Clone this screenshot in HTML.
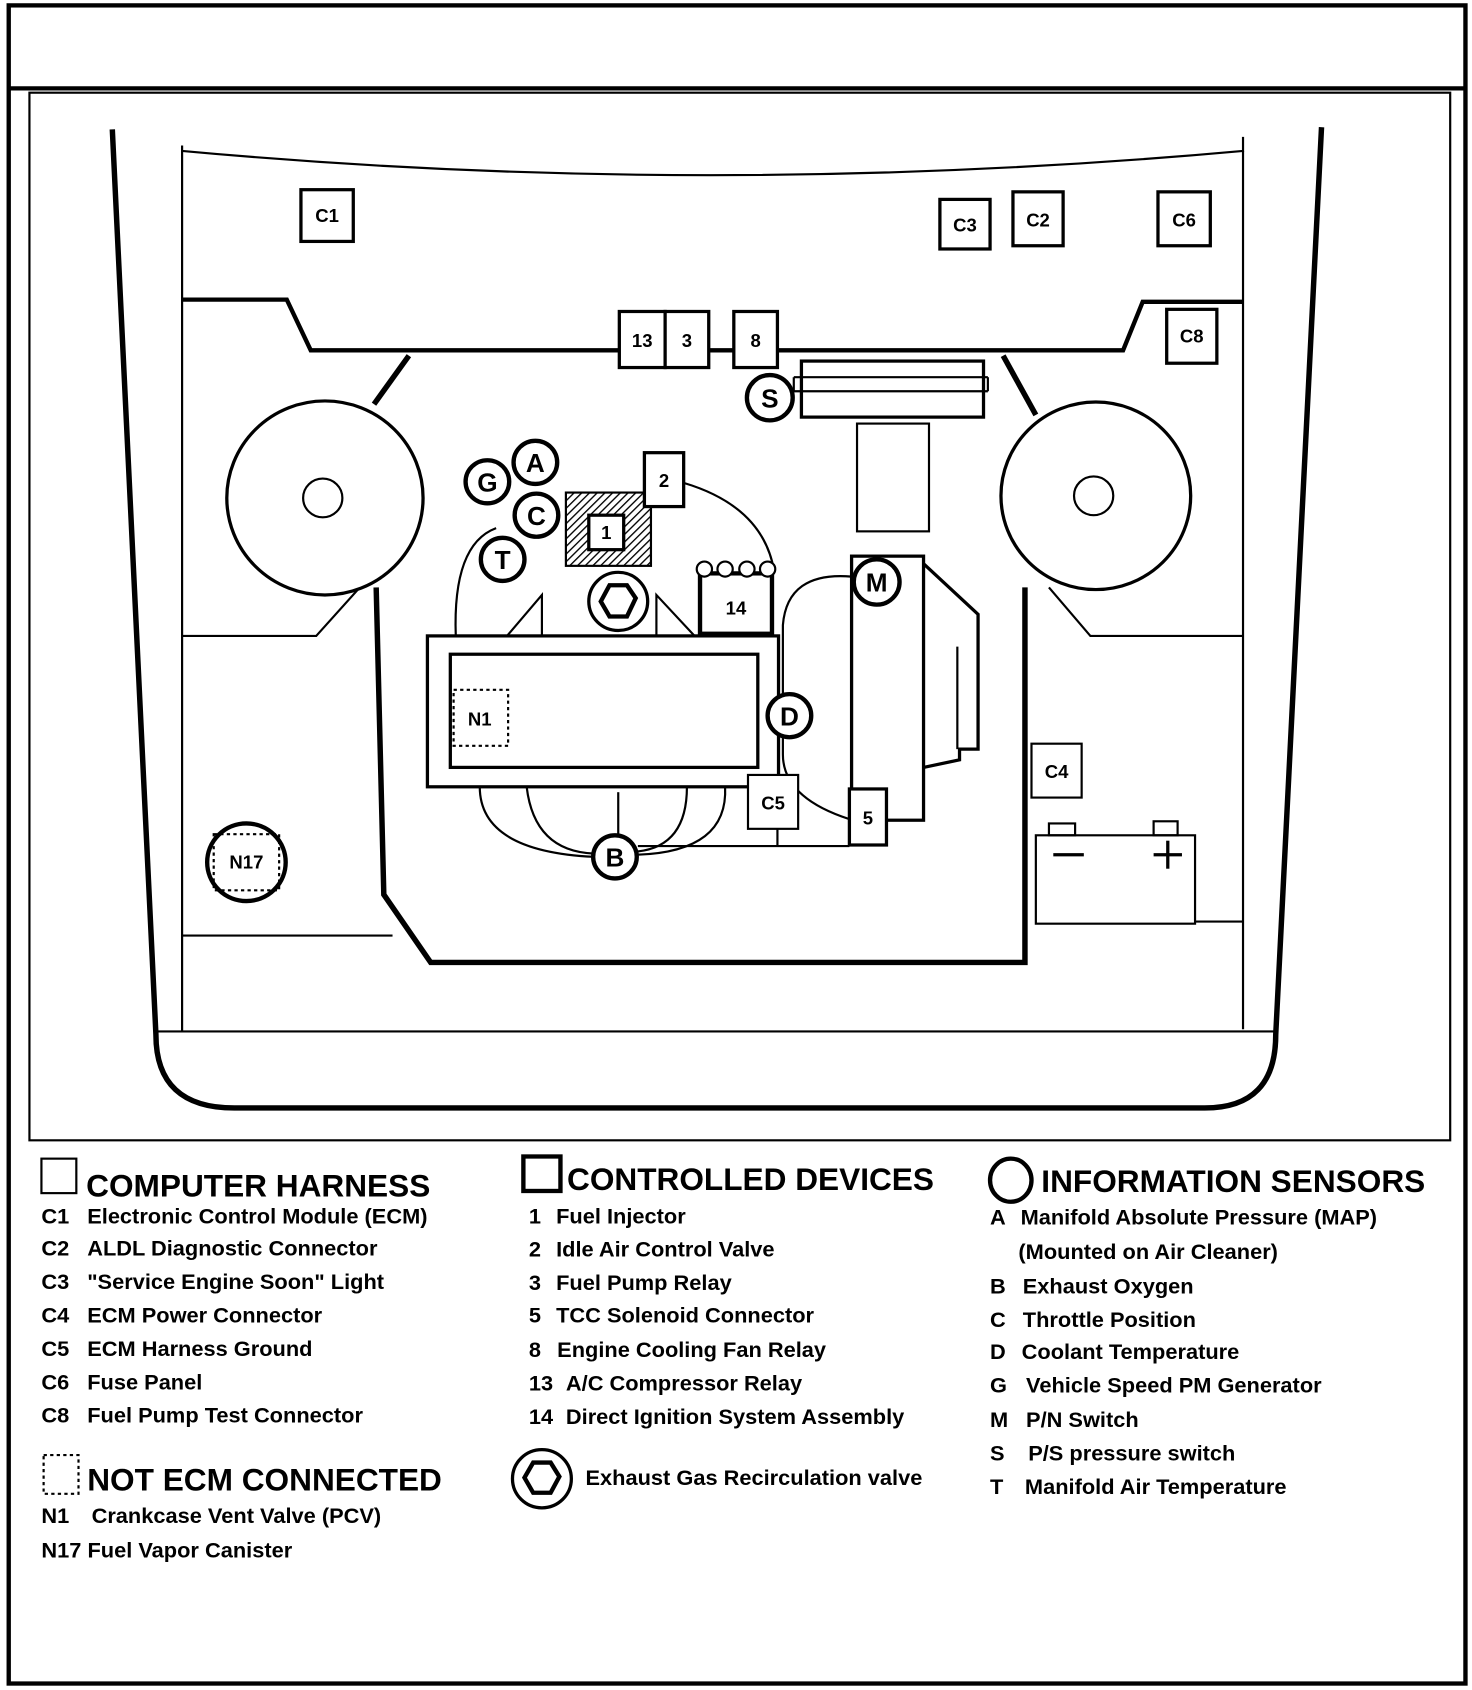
<!DOCTYPE html>
<html><head><meta charset="utf-8"><style>
html,body{margin:0;padding:0;background:#fff}
svg{display:block}
text{font-family:"Liberation Sans Narrow","Liberation Sans",sans-serif;font-weight:bold;fill:#000}
</style></head><body>
<svg width="1472" height="1690" viewBox="0 0 1350 1568" preserveAspectRatio="none" xmlns="http://www.w3.org/2000/svg">
<defs><pattern id="h" width="5" height="5" patternUnits="userSpaceOnUse" patternTransform="rotate(45)"><rect width="5" height="5" fill="#fff"/><line x1="0" y1="0" x2="0" y2="5" stroke="#000" stroke-width="2.5"/></pattern></defs>
<rect x="0" y="0" width="1350" height="1568" fill="#fff"/>
<g fill="none" stroke="#000">
<rect x="8" y="5" width="1336" height="1557" stroke-width="4"/>
<line x1="8" y1="82" x2="1344" y2="82" stroke-width="4"/>
<rect x="27" y="86" width="1303" height="972" stroke-width="2"/>
<path d="M103 120 L143 960 Q143 1028 215 1028 L1105 1028 Q1170 1028 1170 960 L1212 118" stroke-width="5"/>
<path d="M167 135 L167 140 Q650 185 1140 140 L1140 127" stroke-width="2"/>
<line x1="167" y1="140" x2="167" y2="958" stroke-width="2"/>
<line x1="1140" y1="140" x2="1140" y2="955" stroke-width="2"/>
<line x1="143" y1="957" x2="1170" y2="957" stroke-width="2"/>
<path d="M167 278 L263 278 L285 325 L1030 325 L1048 280 L1140 280" stroke-width="4"/>
<line x1="167" y1="868" x2="360" y2="868" stroke-width="2"/>
<line x1="1096" y1="855" x2="1140" y2="855" stroke-width="2"/>
<path d="M167 590 L290 590 L330 545" stroke-width="2"/>
<path d="M1140 590 L1000 590 L962 545" stroke-width="2"/>
<path d="M375 330 L343 375" stroke-width="5"/>
<path d="M345 545 L352 830 L395 893 L940 893 L940 545" stroke-width="5"/>
<path d="M920 330 L950 385" stroke-width="5"/>
<circle cx="298" cy="462" r="90" stroke-width="3" fill="#fff"/>
<circle cx="296" cy="462" r="18" stroke-width="2"/>
<circle cx="1005" cy="460" r="87" stroke-width="3" fill="#fff"/>
<circle cx="1003" cy="460" r="18" stroke-width="2"/>
<g stroke-width="3" fill="#fff">
<rect x="276" y="176" width="48" height="48"/>
<rect x="862" y="185" width="46" height="46"/>
<rect x="929" y="178" width="46" height="50"/>
<rect x="1062" y="178" width="48" height="50"/>
<rect x="1070" y="287" width="46" height="50"/>
<rect x="568" y="289" width="42" height="52"/>
<rect x="610" y="289" width="40" height="52"/>
<rect x="673" y="289" width="40" height="52"/>
</g>
<rect x="735" y="335" width="167" height="52" stroke-width="3" fill="#fff"/>
<line x1="728" y1="350" x2="906" y2="350" stroke-width="2"/>
<line x1="728" y1="363" x2="906" y2="363" stroke-width="2"/>
<line x1="728" y1="350" x2="728" y2="363" stroke-width="2"/>
<line x1="906" y1="350" x2="906" y2="363" stroke-width="2"/>
<rect x="786" y="393" width="66" height="100" stroke-width="2"/>
<path d="M418 590 Q415 505 455 490" stroke-width="2"/>
<path d="M627 448 Q700 470 710 530" stroke-width="2"/>
<path d="M465 590 L497 552 L497 590 Z" stroke-width="2"/>
<path d="M602 552 L602 590 L637 590 Z" stroke-width="2"/>
<rect x="519" y="457" width="78" height="68" stroke-width="2" fill="url(#h)"/>
<rect x="540" y="478" width="32" height="32" stroke-width="3" fill="#fff"/>
<rect x="591" y="420" width="36" height="50" stroke-width="3" fill="#fff"/>
<circle cx="567" cy="558" r="27" stroke-width="3"/>
<polygon points="559,543 575,543 583,555 575,572 559,572 551,558" stroke-width="4"/>
<rect x="642" y="532" width="66" height="56" stroke-width="4" fill="#fff"/>
<circle cx="646" cy="528" r="7" stroke-width="2" fill="#fff"/>
<circle cx="665" cy="528" r="7" stroke-width="2" fill="#fff"/>
<circle cx="685" cy="528" r="7" stroke-width="2" fill="#fff"/>
<circle cx="704" cy="528" r="7" stroke-width="2" fill="#fff"/>
<rect x="392" y="590" width="322" height="140" stroke-width="3" fill="#fff"/>
<rect x="413" y="607" width="282" height="105" stroke-width="3"/>
<rect x="416" y="640" width="50" height="52" stroke-width="2" stroke-dasharray="3,3"/>
<path d="M440 730 Q440 790 545 795" stroke-width="2"/>
<path d="M483 730 Q490 790 545 792" stroke-width="2"/>
<line x1="567" y1="735" x2="567" y2="775" stroke-width="2"/>
<path d="M630 730 Q630 785 585 790" stroke-width="2"/>
<path d="M665 730 Q668 790 585 793" stroke-width="2"/>
<path d="M585 785 L779 785" stroke-width="2"/>
<line x1="713" y1="769" x2="713" y2="785" stroke-width="2"/>
<path d="M781 535 Q722 530 718 580 L718 700 Q718 740 779 760" stroke-width="2"/>
<rect x="781" y="516" width="66" height="245" stroke-width="3" fill="#fff"/>
<path d="M847 523 L897 570 L897 695 L880 695 L880 705 L847 712" stroke-width="3"/>
<line x1="878" y1="600" x2="878" y2="695" stroke-width="2"/>
<rect x="779" y="732" width="34" height="52" stroke-width="3" fill="#fff"/>
<rect x="686" y="719" width="46" height="50" stroke-width="2" fill="#fff"/>
<g stroke-width="4" fill="#fff">
<circle cx="706" cy="369" r="21"/>
<circle cx="491" cy="429" r="20"/>
<circle cx="447" cy="447" r="20"/>
<circle cx="492" cy="478" r="20"/>
<circle cx="461" cy="519" r="20"/>
<circle cx="804" cy="540" r="21"/>
<circle cx="724" cy="664" r="20"/>
<circle cx="564" cy="795" r="20"/>
</g>
<circle cx="226" cy="800" r="36" stroke-width="4"/>
<rect x="196" y="774" width="60" height="52" stroke-width="2" stroke-dasharray="3,3"/>
<rect x="946" y="690" width="46" height="50" stroke-width="2" fill="#fff"/>
<rect x="950" y="775" width="146" height="82" stroke-width="2"/>
<rect x="962" y="764" width="24" height="11" stroke-width="2"/>
<rect x="1058" y="762" width="22" height="13" stroke-width="2"/>
<line x1="966" y1="793" x2="994" y2="793" stroke-width="3"/>
<line x1="1058" y1="793" x2="1084" y2="793" stroke-width="3"/>
<line x1="1071" y1="780" x2="1071" y2="806" stroke-width="3"/>
<rect x="38" y="1075" width="32" height="32" stroke-width="2"/>
<rect x="480" y="1073" width="34" height="32" stroke-width="4"/>
<ellipse cx="927" cy="1095" rx="19" ry="20" stroke-width="4"/>
<rect x="40" y="1350" width="32" height="36" stroke-width="2" stroke-dasharray="3,3"/>
<circle cx="497" cy="1372" r="27" stroke-width="3"/>
<polygon points="489,1357 505,1357 513,1370 505,1385 489,1385 481,1371" stroke-width="4"/>
</g>
<g font-size="17" text-anchor="middle">
<text x="300" y="206">C1</text><text x="885" y="215">C3</text><text x="952" y="210">C2</text>
<text x="1086" y="210">C6</text><text x="1093" y="318">C8</text>
<text x="589" y="322">13</text><text x="630" y="322">3</text><text x="693" y="322">8</text>
<text x="609" y="452">2</text><text x="556" y="500">1</text><text x="675" y="570">14</text>
<text x="440" y="673">N1</text><text x="709" y="751">C5</text><text x="796" y="765">5</text>
<text x="226" y="806">N17</text><text x="969" y="722">C4</text>
</g>
<g font-size="24" text-anchor="middle">
<text x="706" y="378">S</text><text x="491" y="438">A</text><text x="447" y="456">G</text>
<text x="492" y="487">C</text><text x="461" y="528">T</text><text x="804" y="549">M</text>
<text x="724" y="673">D</text><text x="564" y="804">B</text>
</g>
<g font-size="29">
<text x="79" y="1110">COMPUTER HARNESS</text>
<text x="520" y="1104">CONTROLLED DEVICES</text>
<text x="955" y="1106">INFORMATION SENSORS</text>
<text x="80" y="1383">NOT ECM CONNECTED</text>
</g>
<g font-size="20">
<text x="38" y="1135">C1</text><text x="80" y="1135">Electronic Control Module (ECM)</text>
<text x="38" y="1165">C2</text><text x="80" y="1165">ALDL Diagnostic Connector</text>
<text x="38" y="1196">C3</text><text x="80" y="1196">"Service Engine Soon" Light</text>
<text x="38" y="1227">C4</text><text x="80" y="1227">ECM Power Connector</text>
<text x="38" y="1258">C5</text><text x="80" y="1258">ECM Harness Ground</text>
<text x="38" y="1289">C6</text><text x="80" y="1289">Fuse Panel</text>
<text x="38" y="1320">C8</text><text x="80" y="1320">Fuel Pump Test Connector</text>
<text x="38" y="1413">N1</text><text x="84" y="1413">Crankcase Vent Valve (PCV)</text>
<text x="38" y="1445">N17 Fuel  Vapor Canister</text>
<text x="485" y="1135">1</text><text x="510" y="1135">Fuel Injector</text>
<text x="485" y="1166">2</text><text x="510" y="1166">Idle Air Control Valve</text>
<text x="485" y="1197">3</text><text x="510" y="1197">Fuel Pump Relay</text>
<text x="485" y="1227">5</text><text x="510" y="1227">TCC  Solenoid  Connector</text>
<text x="485" y="1259">8</text><text x="511" y="1259">Engine Cooling Fan Relay</text>
<text x="485" y="1290">13</text><text x="519" y="1290">A/C Compressor Relay</text>
<text x="485" y="1321">14</text><text x="519" y="1321">Direct Ignition System Assembly</text>
<text x="537" y="1378">Exhaust Gas Recirculation valve</text>
<text x="908" y="1136">A</text><text x="936" y="1136">Manifold Absolute Pressure  (MAP)</text>
<text x="934" y="1168">(Mounted on Air Cleaner)</text>
<text x="908" y="1200">B</text><text x="938" y="1200">Exhaust Oxygen</text>
<text x="908" y="1231">C</text><text x="938" y="1231">Throttle Position</text>
<text x="908" y="1261">D</text><text x="937" y="1261">Coolant Temperature</text>
<text x="908" y="1292">G</text><text x="941" y="1292">Vehicle Speed PM Generator</text>
<text x="908" y="1324">M</text><text x="941" y="1324">P/N Switch</text>
<text x="908" y="1355">S</text><text x="943" y="1355">P/S pressure switch</text>
<text x="908" y="1386">T</text><text x="940" y="1386">Manifold Air Temperature</text>
</g>
</svg>
</body></html>
